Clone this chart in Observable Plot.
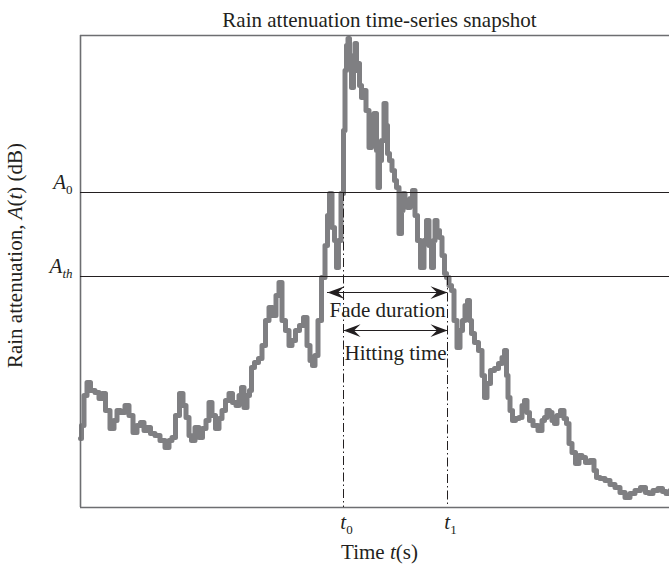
<!DOCTYPE html>
<html>
<head>
<meta charset="utf-8">
<script src="https://cdn.jsdelivr.net/npm/d3@7"></script>
<script src="https://cdn.jsdelivr.net/npm/@observablehq/plot@0.6"></script>
<style>
  html, body { margin: 0; padding: 0; background: #fff; }
</style>
</head>
<body>
<div id="chart"></div>
<script>
// Rain attenuation record: time (s) and attenuation A(t) (dB)
const time = [
  0, 2, 5, 8, 12, 17, 20, 23, 27, 32, 35, 38, 42, 47, 50, 55, 58, 62, 65, 68,
  72, 77, 82, 87, 90, 93, 97, 101, 104, 107, 110, 112, 117, 120, 124, 127, 130, 133, 137, 140,
  143, 147, 150, 154, 157, 160, 162, 165, 168, 170, 172, 176, 180, 183, 187, 190, 194, 197, 200, 203,
  207, 210, 213, 217, 221, 225, 228, 231, 233, 236, 239, 243, 246, 248, 250, 253, 255, 257, 259, 262,
  264, 265, 267, 268, 270, 272, 274, 275, 277, 278, 280, 282, 284, 287, 290, 292, 295, 297, 298, 300,
  302, 305, 306, 308, 310, 313, 315, 317, 320, 322, 323, 326, 328, 331, 333, 336, 338, 342, 345, 347,
  350, 352, 354, 355, 358, 360, 363, 365, 367, 370, 372, 375, 378, 381, 383, 386, 388, 390, 392, 396,
  400, 403, 405, 408, 412, 416, 420, 423, 425, 427, 428, 431, 433, 437, 440, 443, 445, 448, 450, 455,
  460, 463, 465, 468, 470, 473, 475, 478, 482, 485, 487, 490, 493, 497, 500, 503, 507, 512, 515, 517,
  522, 527, 532, 537, 542, 547, 552, 557, 563, 567, 570, 575, 580, 584, 587, 592
];
const attenuation = [
  6.9, 8.2, 11.2, 12.5, 11.7, 11.5, 10.9, 11.4, 9.7, 7.9, 8.7, 9.7, 9.5, 10.2, 9.2, 7.5, 8.2, 8.5, 7.7, 8.0,
  7.4, 7.2, 6.7, 6.0, 6.7, 7.0, 9.2, 11.4, 10.2, 9.0, 7.2, 6.7, 8.0, 7.0, 7.9, 8.7, 10.5, 9.2, 7.9, 8.9,
  9.7, 10.7, 11.4, 10.5, 10.2, 11.2, 12.0, 10.0, 11.2, 11.7, 14.0, 14.5, 14.9, 16.2, 18.7, 20.0, 19.2, 21.2, 22.5, 18.7,
  17.7, 16.2, 16.7, 17.7, 18.2, 19.0, 16.2, 14.7, 14.2, 15.2, 18.7, 23.0, 26.2, 29.2, 31.4, 28.0, 26.7, 24.0, 26.7, 31.4,
  37.7, 43.7, 46.2, 46.9, 44.7, 42.0, 45.2, 46.4, 43.7, 44.4, 42.2, 41.0, 41.7, 39.7, 36.0, 38.2, 39.4, 35.7, 32.0, 34.7,
  36.7, 40.4, 38.2, 35.4, 34.7, 33.7, 32.7, 32.0, 27.4, 29.7, 31.4, 30.7, 30.0, 30.9, 31.7, 29.2, 26.7, 24.0, 26.7, 28.7,
  26.2, 24.0, 26.7, 28.7, 27.7, 27.0, 25.2, 23.4, 23.0, 22.2, 21.7, 18.7, 16.0, 17.7, 18.7, 20.2, 20.7, 18.7, 17.4, 16.5,
  15.7, 13.2, 11.0, 12.4, 13.7, 13.9, 14.4, 15.0, 15.7, 13.2, 11.0, 9.7, 8.7, 8.9, 9.0, 10.2, 10.7, 9.5, 8.7, 8.2,
  7.7, 8.7, 9.0, 9.7, 9.5, 8.7, 8.4, 9.2, 9.7, 8.9, 8.4, 6.4, 5.5, 4.4, 5.2, 5.0, 4.5, 4.7, 3.7, 3.0,
  2.9, 2.7, 2.3, 2.0, 1.5, 1.0, 1.4, 1.7, 2.0, 1.5, 1.4, 1.7, 1.9, 1.6, 1.4, 1.7
];

// Attenuation thresholds (dB)
const thresholdNames = ["A0", "Ath"];
const thresholdLevels = [31.5, 23.1];

// Crossing instants (s) and the threshold each one starts from
const instantNames = ["t0", "t1"];
const instantTimes = [263, 367];
const instantLevels = [31.5, 23.1];

// Interval annotations
const spanLabels = ["Fade duration", "Hitting time"];
const spanStarts = [247, 263];
const spanEnds = [367, 367];
const spanLevels = [21.5, 17.7];
const spanTextLevels = [19.1, 14.8];

const xDomain = [0, 598];
const yDomain = [0, 47.2];

const series = time.map((t, i) => ({t, a: attenuation[i]}));
const thresholds = thresholdNames.map((name, i) => ({name, value: thresholdLevels[i]}));
const instants = instantNames.map((name, i) => ({name, t: instantTimes[i], from: instantLevels[i]}));
const spans = spanLabels.map((label, i) => ({
  label, start: spanStarts[i], end: spanEnds[i], level: spanLevels[i], textLevel: spanTextLevels[i]
}));

// Barbed, filled arrowheads (tip at the symbol origin)
function barb(direction) {
  return {
    draw(context, size) {
      const r = Math.sqrt(size / Math.PI);
      const L = 2 * r * direction, W = 0.75 * r;
      context.moveTo(0, 0);
      context.lineTo(-L, -W);
      context.lineTo(-0.62 * L, 0);
      context.lineTo(-L, W);
      context.closePath();
    }
  };
}
const ink = "#231f20";

const chart = Plot.plot({
  width: 669,
  height: 566,
  marginLeft: 80,
  marginRight: 0,
  marginTop: 35,
  marginBottom: 59,
  x: {domain: xDomain, range: [80, 678], axis: null},
  y: {domain: yDomain, range: [507, 35], axis: null},
  style: {
    fontFamily: "'Liberation Serif', 'Times New Roman', serif",
    fontSize: "21px",
    color: ink,
    background: "#fff"
  },
  marks: [
    // the time series
    Plot.line(series, {x: "t", y: "a", stroke: "#7f7f82", strokeWidth: 5, curve: "step"}),
    // frame: top, bottom, left
    Plot.ruleY(yDomain, {stroke: "#6d6e71", strokeWidth: 1.6}),
    Plot.ruleX([xDomain[0]], {y1: yDomain[0], y2: yDomain[1], stroke: "#6d6e71", strokeWidth: 1.6}),
    // threshold levels
    Plot.ruleY(thresholds, {y: "value", stroke: ink, strokeWidth: 1.1}),
    Plot.text(thresholds, {x: xDomain[0], y: "value", text: "name", textAnchor: "end", lineAnchor: "bottom", dx: -8, dy: -4, fill: ink}),
    // crossing instants
    Plot.ruleX(instants, {x: "t", y1: "from", y2: yDomain[0], stroke: ink, strokeWidth: 1, strokeDasharray: "9,3,1.5,3"}),
    Plot.text(instants, {x: "t", y: yDomain[0], text: "name", lineAnchor: "bottom", dx: 3, dy: 21, fill: ink}),
    // interval arrows
    Plot.ruleY(spans, {y: "level", x1: "start", x2: "end", stroke: ink, strokeWidth: 1.1}),
    Plot.dot(spans, {x: "start", y: "level", r: 8.5, symbol: barb(-1), fill: ink, stroke: "none"}),
    Plot.dot(spans, {x: "end", y: "level", r: 8.5, symbol: barb(1), fill: ink, stroke: "none"}),
    Plot.text(spans, {x: d => (d.start + d.end) / 2, y: "textLevel", text: "label", lineAnchor: "bottom", fill: ink}),
    // titles
    Plot.text(["Rain attenuation time-series snapshot"], {x: (xDomain[0] + xDomain[1]) / 2, y: yDomain[1], text: d => d, lineAnchor: "bottom", dy: -9, fill: ink}),
    Plot.text(["Time t(s)"], {x: (xDomain[0] + xDomain[1]) / 2, y: yDomain[0], text: d => d, lineAnchor: "bottom", dy: 51, fill: ink}),
    Plot.text(["Rain attenuation, A(t) (dB)"], {x: xDomain[0], y: 25.2, text: d => d, rotate: -90, lineAnchor: "bottom", dx: -59, fill: ink})
  ]
});

// Italic symbols and subscripts in the labels
const richText = {
  "A0": [["A", "i"], ["0", "sub"]],
  "Ath": [["A", "i"], ["th", "isub"]],
  "t0": [["t", "i"], ["0", "sub"]],
  "t1": [["t", "i"], ["1", "sub"]],
  "Time t(s)": [["Time "], ["t", "i"], ["(s)"]],
  "Rain attenuation, A(t) (dB)": [["Rain attenuation, "], ["A", "i"], ["("], ["t", "i"], [") (dB)"]]
};
chart.querySelectorAll("text").forEach(el => {
  const parts = richText[el.textContent];
  if (!parts) return;
  el.textContent = "";
  for (const [s, kind] of parts) {
    const ts = document.createElementNS("http://www.w3.org/2000/svg", "tspan");
    ts.textContent = s;
    if (kind === "i" || kind === "isub") ts.setAttribute("font-style", "italic");
    if (kind === "sub" || kind === "isub") {
      ts.setAttribute("font-size", "0.62em");
      ts.setAttribute("dy", "0.45em");
    }
    el.appendChild(ts);
  }
});

document.getElementById("chart").appendChild(chart);
</script>
</body>
</html>
